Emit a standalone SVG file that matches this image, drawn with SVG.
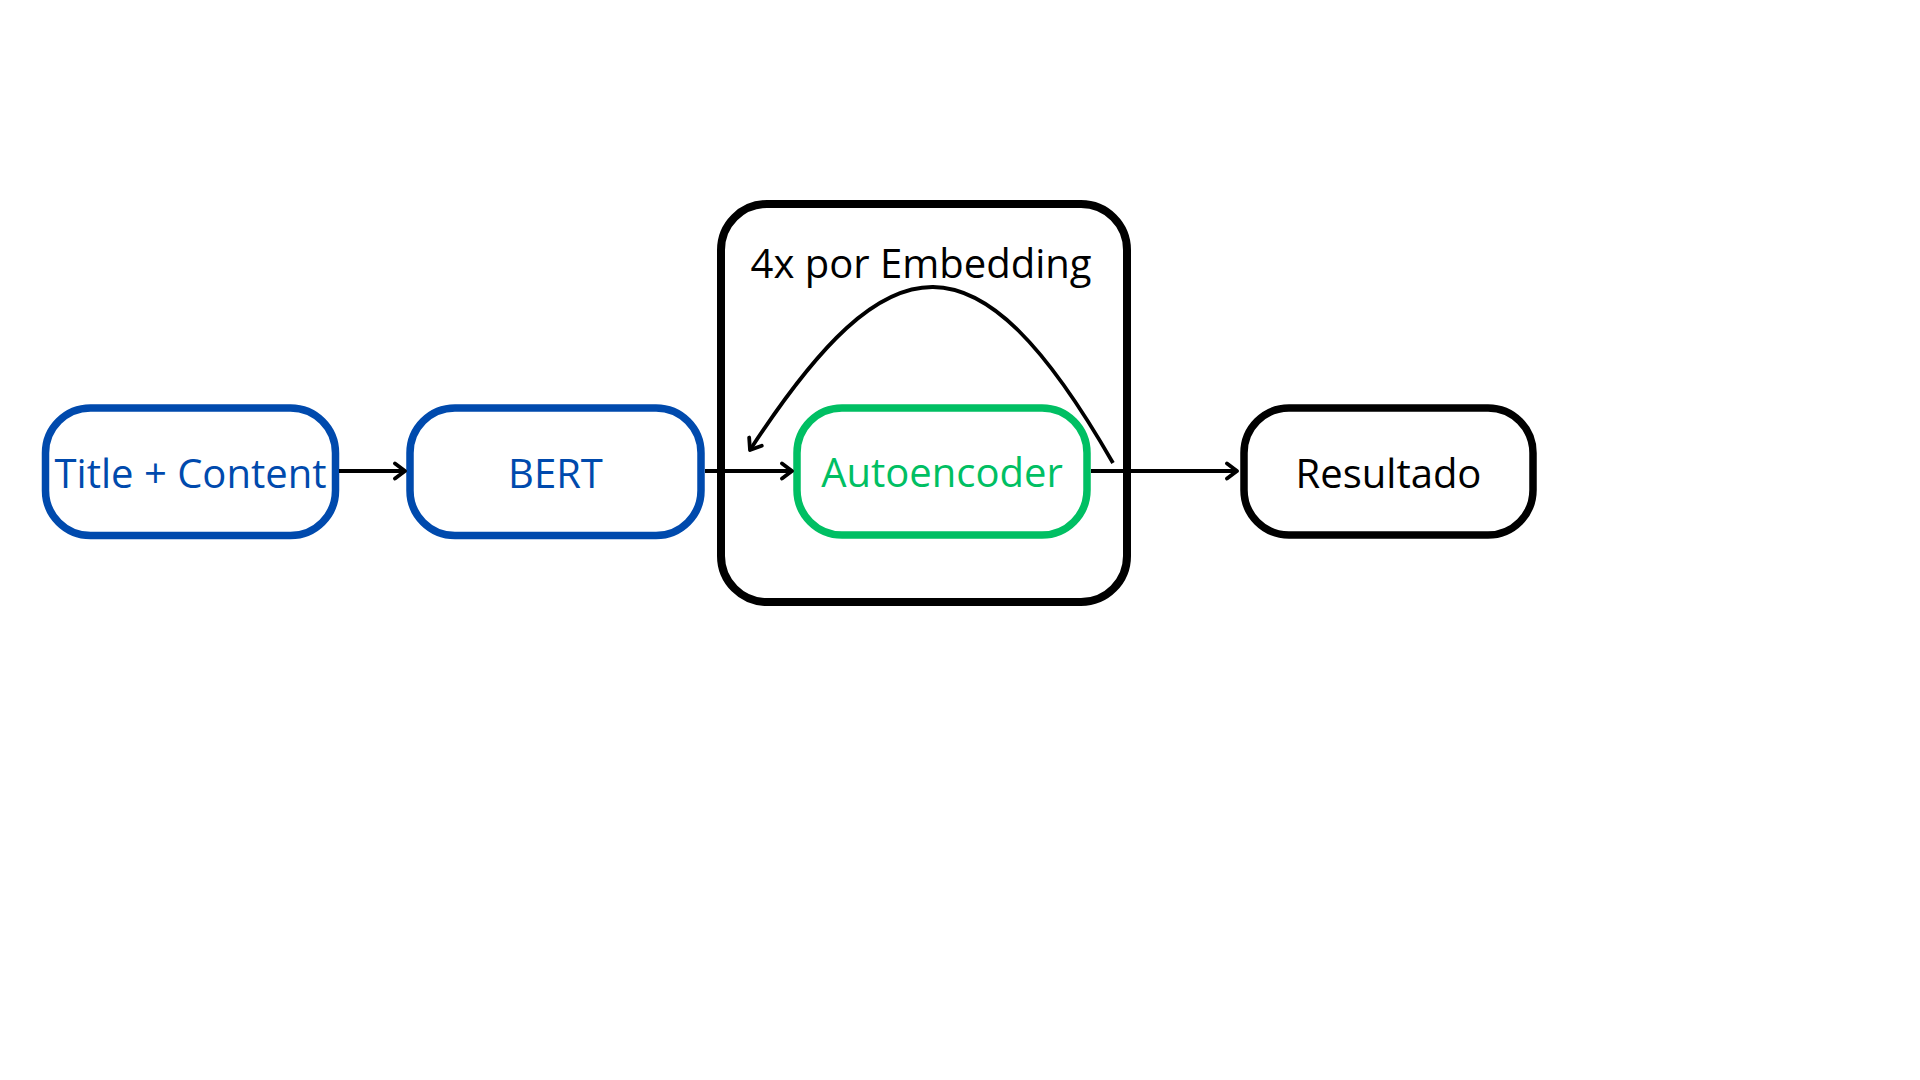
<svg xmlns="http://www.w3.org/2000/svg" width="1920" height="1080" viewBox="0 0 1920 1080">
<defs>
<style>
.lbl{font-family:"Open Sans","Noto Sans",sans-serif;font-size:40px;text-anchor:middle}
.box{fill:#fff;stroke-width:7.5}
.blue{stroke:#004AAD}
.bluet{fill:#004AAD}
.conn{fill:none;stroke:#000;stroke-width:3.8}
</style>
<marker id="arr" viewBox="0 0 20 20" refX="17" refY="10" markerWidth="20" markerHeight="20" markerUnits="userSpaceOnUse" orient="auto">
<path d="M7,2.5 L17,10 L7,17.5" fill="none" stroke="#000" stroke-width="3.8" stroke-linecap="round" stroke-linejoin="round"/>
</marker>
</defs>
<rect width="1920" height="1080" fill="#fff"/>
<g id="loop-group">
<rect x="721" y="204" width="406" height="398" rx="46" fill="none" stroke="#000" stroke-width="8"/>
<text class="lbl" x="921" y="278" fill="#000">4x por Embedding</text>
</g>
<g id="title-content">
<rect class="box blue" x="45.5" y="408" width="290" height="127.5" rx="45"/>
<text class="lbl bluet" x="190.5" y="488">Title + Content</text>
</g>
<g id="bert">
<rect class="box blue" x="410" y="408" width="291" height="127.5" rx="45"/>
<text class="lbl bluet" x="555.5" y="488">BERT</text>
</g>
<g id="autoencoder">
<rect class="box" x="797" y="408" width="290" height="127" rx="45" stroke="#00BF63" stroke-width="7"/>
<text class="lbl" x="942" y="487" fill="#00BF63">Autoencoder</text>
</g>
<g id="resultado">
<rect class="box" x="1244" y="408" width="289" height="127" rx="45" stroke="#000" stroke-width="8.5"/>
<text class="lbl" x="1388.5" y="488" fill="#000">Resultado</text>
</g>
<g id="connectors">
<path class="conn" d="M339,471 L405,471" marker-end="url(#arr)"/>
<path class="conn" d="M705,471 L792,471" marker-end="url(#arr)"/>
<path class="conn" d="M1091,471 L1237,471" marker-end="url(#arr)"/>
<path class="conn" stroke-width="3.3" d="M1113,463 C977,226 890,235 750,450" marker-end="url(#arr)"/>
</g>
</svg>
